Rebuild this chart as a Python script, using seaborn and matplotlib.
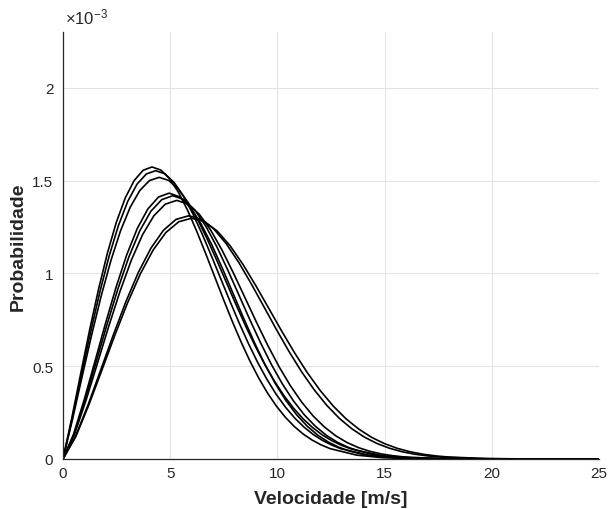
import numpy as np
import pandas as pd
import matplotlib
matplotlib.use("Agg")
import matplotlib.pyplot as plt
import seaborn as sns

# ---- data (probability values in units of 1e-3) ----
speed_a1 = [0, 0.415, 0.83, 1.245, 1.66, 2.075, 2.49, 2.905, 3.32, 3.735, 4.15, 4.565, 4.98, 5.395, 5.81,
            6.225, 6.64, 7.055, 7.47, 7.885, 8.3, 8.715, 9.13, 9.545, 9.96, 10.375, 10.79, 11.205, 11.62,
            12.035, 12.45, 13.695, 14.94, 16.6, 25]
prob_a1 = [0, 0.2235, 0.4626, 0.6968, 0.9156, 1.1109, 1.276, 1.4066, 1.5, 1.5551, 1.573, 1.5563, 1.5085,
           1.4346, 1.3399, 1.2302, 1.111, 0.9875, 0.8639, 0.7443, 0.632, 0.5287, 0.4357, 0.3542, 0.2839,
           0.2243, 0.1749, 0.1343, 0.1019, 0.0763, 0.0562, 0.0208, 0.0068, 0.0013, 0]

speed_a2 = [0, 0.432, 0.864, 1.296, 1.728, 2.16, 2.592, 3.024, 3.456, 3.888, 4.32, 4.752, 5.184, 5.616,
            6.048, 6.48, 6.912, 7.344, 7.776, 8.208, 8.64, 9.072, 9.504, 9.936, 10.368, 10.8, 11.232, 11.664,
            12.096, 12.528, 12.96, 14.256, 15.552, 17.28, 25]
prob_a2 = [0, 0.2207, 0.4567, 0.688, 0.904, 1.0967, 1.2598, 1.3887, 1.4809, 1.5353, 1.553, 1.5365, 1.4893,
           1.4163, 1.3228, 1.2146, 1.0969, 0.975, 0.8529, 0.7349, 0.624, 0.522, 0.4302, 0.3497, 0.2803,
           0.2215, 0.1727, 0.1326, 0.1006, 0.0753, 0.0554, 0.0205, 0.0067, 0.0013, 0]

speed_a3 = [0, 0.448, 0.896, 1.344, 1.792, 2.24, 2.688, 3.136, 3.584, 4.032, 4.48, 4.928, 5.376, 5.824,
            6.272, 6.72, 7.168, 7.616, 8.064, 8.512, 8.96, 9.408, 9.856, 10.304, 10.752, 11.2, 11.648, 12.096,
            12.544, 12.992, 13.44, 14.784, 16.128, 17.92, 25]
prob_a3 = [0, 0.2156, 0.4462, 0.672, 0.883, 1.0713, 1.2306, 1.3565, 1.4466, 1.4997, 1.517, 1.5009, 1.4548,
           1.3835, 1.2922, 1.1864, 1.0715, 0.9524, 0.8331, 0.7178, 0.6095, 0.5099, 0.4202, 0.3416, 0.2738,
           0.2163, 0.1687, 0.1296, 0.0983, 0.0736, 0.0542, 0.0201, 0.0066, 0.0012, 0]

speed_b1 = [0, 0.495, 0.99, 1.485, 1.98, 2.475, 2.97, 3.465, 3.96, 4.455, 4.95, 5.445, 5.94, 6.435, 6.93,
            7.425, 7.92, 8.415, 8.91, 9.405, 9.9, 10.395, 10.89, 11.385, 11.88, 12.375, 12.87, 13.365, 13.86,
            14.355, 14.85, 16.335, 17.82, 25]
prob_b1 = [0, 0.1342, 0.3199, 0.5237, 0.7297, 0.9252, 1.0991, 1.2418, 1.3472, 1.411, 1.432, 1.412, 1.355,
           1.2672, 1.1561, 1.0293, 0.8953, 0.7607, 0.6317, 0.5125, 0.4068, 0.3155, 0.239, 0.1774, 0.1285,
           0.0911, 0.063, 0.0427, 0.0282, 0.0183, 0.0116, 0.0025, 0.0005, 0]

speed_b2 = [0, 0.512, 1.024, 1.536, 2.048, 2.56, 3.072, 3.584, 4.096, 4.608, 5.12, 5.632, 6.144, 6.656,
            7.168, 7.68, 8.192, 8.704, 9.216, 9.728, 10.24, 10.752, 11.264, 11.776, 12.288, 12.8, 13.312,
            13.824, 14.336, 14.848, 15.36, 16.896, 18.432, 25]
prob_b2 = [0, 0.1329, 0.3168, 0.5186, 0.7226, 0.9162, 1.0883, 1.2297, 1.3341, 1.3972, 1.418, 1.3981, 1.3417,
           1.2548, 1.1448, 1.0193, 0.8865, 0.7532, 0.6255, 0.5075, 0.4029, 0.3124, 0.2367, 0.1757, 0.1272,
           0.0902, 0.0624, 0.0423, 0.0279, 0.0181, 0.0114, 0.0025, 0.0005, 0]

speed_b3 = [0, 0.53, 1.06, 1.59, 2.12, 2.65, 3.18, 3.71, 4.24, 4.77, 5.3, 5.83, 6.36, 6.89, 7.42, 7.95,
            8.48, 9.01, 9.54, 10.07, 10.6, 11.13, 11.66, 12.19, 12.72, 13.25, 13.78, 14.31, 14.84, 15.37,
            15.9, 17.49, 19.08, 25]
prob_b3 = [0, 0.1305, 0.3112, 0.5094, 0.7099, 0.9, 1.0691, 1.208, 1.3105, 1.3725, 1.393, 1.3735, 1.3181,
           1.2327, 1.1246, 1.0013, 0.8709, 0.74, 0.6145, 0.4986, 0.3958, 0.3069, 0.2325, 0.1726, 0.125,
           0.0886, 0.0613, 0.0415, 0.0274, 0.0178, 0.0112, 0.0025, 0.0004, 0]

speed_c1 = [0, 0.586, 1.172, 1.758, 2.344, 2.93, 3.516, 4.102, 4.688, 5.274, 5.86, 6.446, 7.032, 7.618,
            8.204, 8.79, 9.376, 9.962, 10.548, 11.134, 11.72, 12.306, 12.892, 13.478, 14.064, 14.65, 15.236,
            15.822, 16.408, 16.994, 17.58, 19.338, 21.096, 25]
prob_c1 = [0, 0.1227, 0.2927, 0.4791, 0.6676, 0.8464, 1.0054, 1.136, 1.2324, 1.2907, 1.31, 1.2917, 1.2395,
           1.1592, 1.0576, 0.9416, 0.819, 0.6959, 0.5778, 0.4688, 0.3722, 0.2886, 0.2186, 0.1623, 0.1175,
           0.0833, 0.0576, 0.039, 0.0258, 0.0167, 0.0106, 0.0023, 0.0004, 0]

speed_c2 = [0, 0.6, 1.2, 1.8, 2.4, 3.0, 3.6, 4.2, 4.8, 5.4, 6.0, 6.6, 7.2, 7.8, 8.4, 9.0, 9.6, 10.2, 10.8,
            11.4, 12.0, 12.6, 13.2, 13.8, 14.4, 15.0, 15.6, 16.2, 16.8, 17.4, 18.0, 19.8, 21.6, 25]
prob_c2 = [0, 0.1215, 0.2897, 0.4743, 0.661, 0.838, 0.9954, 1.1248, 1.2202, 1.2779, 1.297, 1.2788, 1.2272,
           1.1477, 1.0471, 0.9323, 0.8109, 0.689, 0.5721, 0.4642, 0.3685, 0.2857, 0.2165, 0.1607, 0.1163,
           0.0825, 0.0571, 0.0387, 0.0256, 0.0165, 0.0105, 0.0023, 0.0004, 0]

curves = {
    "a1": (speed_a1, prob_a1), "a2": (speed_a2, prob_a2), "a3": (speed_a3, prob_a3),
    "b1": (speed_b1, prob_b1), "b2": (speed_b2, prob_b2), "b3": (speed_b3, prob_b3),
    "c1": (speed_c1, prob_c1), "c2": (speed_c2, prob_c2),
}

x_ticks = [0, 5, 10, 15, 20, 25]
y_ticks = [0, 0.5, 1, 1.5, 2]
y_tick_labels = ["0", "0.5", "1", "1.5", "2"]

frames = [pd.DataFrame({"speed": s, "prob": p, "curve": name}) for name, (s, p) in curves.items()]
df = pd.concat(frames, ignore_index=True)

# ---- style ----
sns.set_style("white")
plt.rcParams["font.family"] = ["Liberation Sans", "DejaVu Sans"]
plt.rcParams["mathtext.default"] = "regular"

fig = plt.figure(figsize=(6.09, 5.10), dpi=100)
W, H = 609, 510
ax = fig.add_axes([63 / W, 50 / H, (599 - 63) / W, (460 - 33) / H])

sns.lineplot(data=df, x="speed", y="prob", units="curve", estimator=None, sort=False,
             color="black", linewidth=1.2, ax=ax, legend=False)

ax.set_xlim(0, 25)
ax.set_ylim(0, 2.3)
ax.set_xticks(x_ticks)
ax.set_xticklabels([str(t) for t in x_ticks])
ax.set_yticks(y_ticks)
ax.set_yticklabels(y_tick_labels)

ax.grid(True, color="#e3e3e3", linewidth=0.8)
ax.set_axisbelow(True)
for side in ("top", "right"):
    ax.spines[side].set_visible(False)
for side in ("left", "bottom"):
    ax.spines[side].set_color("#262626")
    ax.spines[side].set_linewidth(0.9)

ax.tick_params(direction="in", length=4, width=0.8, color="#262626",
               labelcolor="#262626", labelsize=11)
ax.tick_params(axis="y", pad=7)
ax.tick_params(axis="x", pad=5)

ax.set_xlabel("Velocidade [m/s]", fontsize=14, fontweight="bold", color="#262626", labelpad=7)
ax.set_ylabel("Probabilidade", fontsize=14, fontweight="bold", color="#262626", labelpad=4)

ax.text(0.004, 1.012, r"$\times10^{-3}$", transform=ax.transAxes, ha="left", va="bottom",
        fontsize=12, color="#262626")

fig.savefig("out.png", dpi=100)
